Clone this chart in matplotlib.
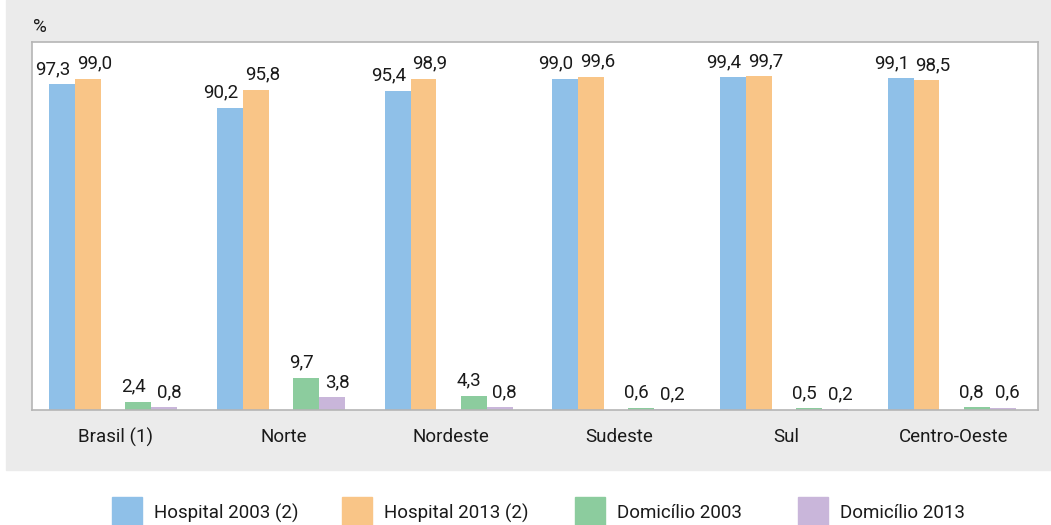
import matplotlib
matplotlib.use("Agg")
from matplotlib import pyplot as plt
from matplotlib.patches import Rectangle
import numpy as np

plt.rcParams['font.family'] = ['Roboto', 'DejaVu Sans']

# dados
regioes = ["Brasil (1)", "Norte", "Nordeste", "Sudeste", "Sul", "Centro-Oeste"]
hosp_2003 = [97.3, 90.2, 95.4, 99.0, 99.4, 99.1]
hosp_2013 = [99.0, 95.8, 98.9, 99.6, 99.7, 98.5]
dom_2003 = [2.4, 9.7, 4.3, 0.6, 0.5, 0.8]
dom_2013 = [0.8, 3.8, 0.8, 0.2, 0.2, 0.6]

# nome, valores, cor, deslocamento da barra, deslocamento do rótulo (px)
series = [
    ("Hospital 2003 (2)", hosp_2003, "#8fc0e8", -0.32, -9),
    ("Hospital 2013 (2)", hosp_2013, "#f9c587", -0.165, 6.5),
    ("Domicílio 2003", dom_2003, "#8ccc9e", 0.135, -5),
    ("Domicílio 2013", dom_2013, "#c9b6da", 0.29, 5),
]
legenda_x = [112, 342, 575, 798]

W, H = 1051, 525
fig = plt.figure(figsize=(W / 100, H / 100), dpi=100)

# fundo cinza
bg = fig.add_axes([0, 0, 1, 1], zorder=0)
bg.set_xlim(0, W)
bg.set_ylim(H, 0)
bg.axis("off")
bg.add_patch(Rectangle((6, 0), W - 6, 470, color="#ebebeb"))

ax = fig.add_axes([32 / W, (H - 410) / H, 1006 / W, 368 / H], zorder=1)
ax.set_facecolor("white")

x = np.arange(len(regioes))
w = 0.155
for nome, vals, cor, off, dx in series:
    bars = ax.bar(x + off, vals, w, color=cor, label=nome, zorder=2)
    for b, v in zip(bars, vals):
        ax.annotate(f"{v:.1f}".replace(".", ","),
                    (b.get_x() + b.get_width() / 2, v),
                    xytext=(dx * 0.72, 7.5), textcoords="offset points",
                    ha="center", va="baseline", fontsize=13.5, color="#1a1a1a")

ax.set_xlim(-0.5, len(regioes) - 0.5)
ax.set_ylim(0, 110)
ax.set_yticks([])
ax.set_xticks(x)
ax.set_xticklabels(regioes, fontsize=13.5, color="#1a1a1a")
ax.tick_params(axis="x", length=0, pad=13)
for s in ax.spines.values():
    s.set_color("#b5b5b5")
    s.set_linewidth(1.2)

bg.text(33, 27, "%", fontsize=13.5, va="center", ha="left", color="#1a1a1a")

# legenda
for (nome, vals, cor, off, dx), lx in zip(series, legenda_x):
    bg.add_patch(Rectangle((lx, 497), 30, 28, color=cor))
    bg.text(lx + 42, 513, nome, fontsize=13.5, va="center", ha="left", color="#1a1a1a")

fig.savefig("out.png", dpi=100)
